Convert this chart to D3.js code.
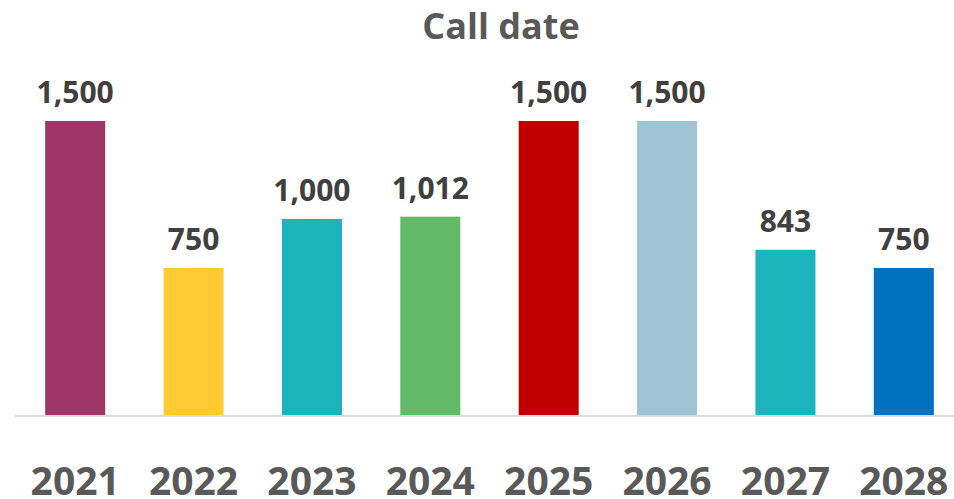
<!DOCTYPE html>
<html>
<head>
<meta charset="utf-8">
<script src="https://cdn.jsdelivr.net/npm/d3@7"></script>
<style>
  html, body { margin: 0; padding: 0; background: #ffffff; }
  svg { display: block; }
  text { font-family: "Open Sans", "Noto Sans", sans-serif; font-weight: 700; }
</style>
</head>
<body>
<svg id="chart" width="954" height="499"></svg>
<script>
// Call schedule by year
const years  = ["2021", "2022", "2023", "2024", "2025", "2026", "2027", "2028"];
const amounts = [1500, 750, 1000, 1012, 1500, 1500, 843, 750];
const colors = ["#9E3667", "#FFCA33", "#1DB3BC", "#63BB6A", "#C00000", "#9DC3D4", "#1DB3BC", "#0070C0"];
const title = "Call date";

const svg = d3.select("#chart");
const baseline = 415;

const x = d3.scaleBand()
  .domain(years)
  .range([16, 963])
  .paddingInner(0.493)
  .paddingOuter(0.2465);

const y = d3.scaleLinear()
  .domain([0, 1500])
  .range([baseline, 121]);

const fmt = d3.format(",");

// Title
svg.append("text")
  .attr("x", 501)
  .attr("y", 39)
  .attr("text-anchor", "middle")
  .attr("font-size", 36)
  .attr("fill", "#595959")
  .text(title);

// Bars
svg.selectAll("rect.bar")
  .data(years)
  .join("rect")
  .attr("class", "bar")
  .attr("x", d => x(d))
  .attr("width", x.bandwidth())
  .attr("y", (d, i) => y(amounts[i]))
  .attr("height", (d, i) => baseline - y(amounts[i]))
  .attr("fill", (d, i) => colors[i]);

// Category axis
const axis = svg.append("g")
  .attr("transform", `translate(0,${baseline + 1})`)
  .call(d3.axisBottom(x).tickSize(0).tickPadding(51));

axis.select(".domain")
  .attr("d", "M15,0H954")
  .attr("stroke", "#d9d9d9")
  .attr("stroke-width", 2);

axis.selectAll(".tick text")
  .attr("font-size", 39)
  .attr("font-family", "\"Open Sans\", \"Noto Sans\", sans-serif")
  .attr("font-weight", 700)
  .attr("fill", "#595959")
  .attr("dy", 0)
  .attr("y", 79);

// Value labels
svg.selectAll("text.value")
  .data(years)
  .join("text")
  .attr("class", "value")
  .attr("x", d => x(d) + x.bandwidth() / 2)
  .attr("y", (d, i) => y(amounts[i]) - 18)
  .attr("text-anchor", "middle")
  .attr("font-size", 30)
  .attr("fill", "#404040")
  .text((d, i) => fmt(amounts[i]));
</script>
</body>
</html>
